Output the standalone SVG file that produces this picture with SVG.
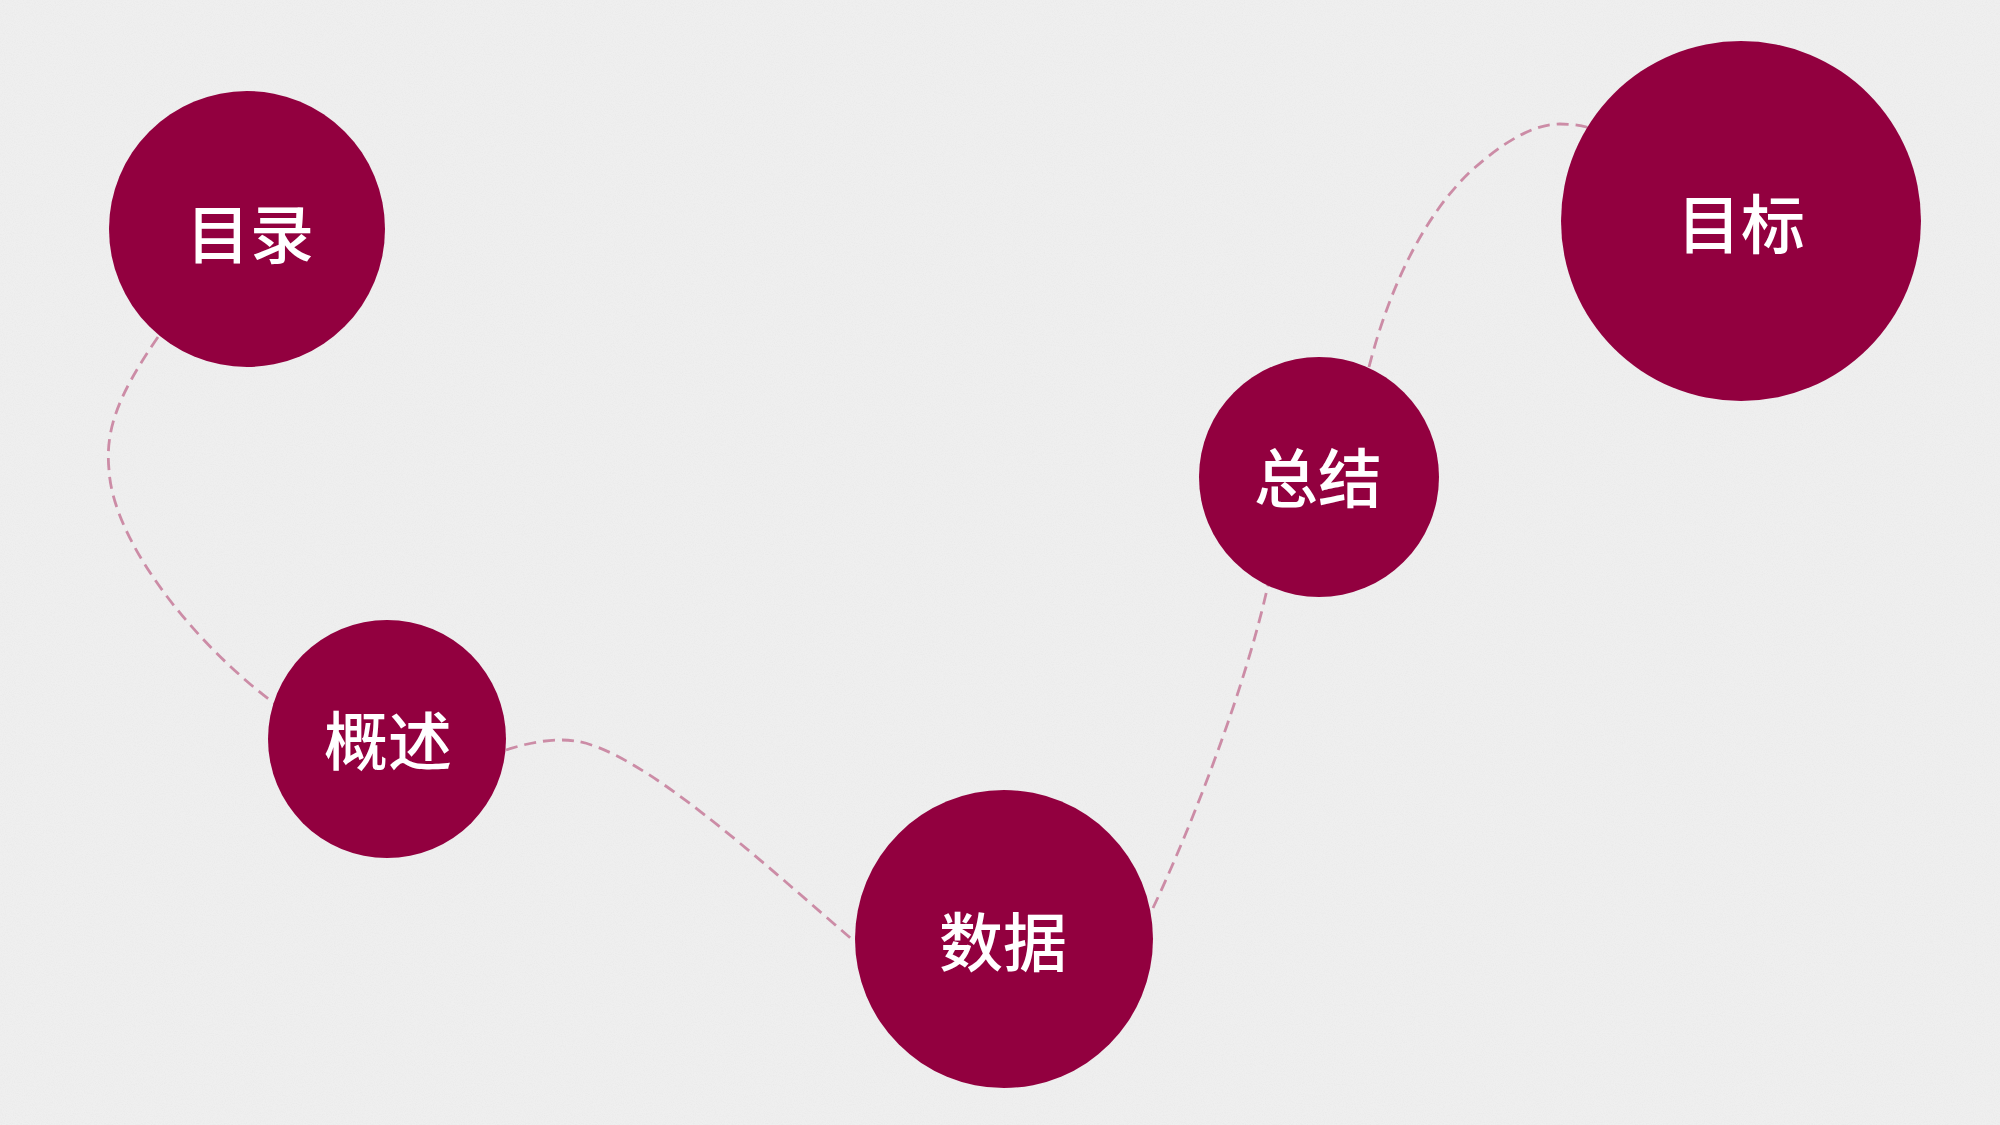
<svg xmlns="http://www.w3.org/2000/svg" width="2000" height="1125" viewBox="0 0 2000 1125">
  <defs>
    <filter id="paper" x="0" y="0" width="100%" height="100%">
      <feTurbulence type="fractalNoise" baseFrequency="0.9" numOctaves="2" seed="3" result="n"/>
      <feColorMatrix type="matrix" values="0 0 0 0 0.5  0 0 0 0 0.5  0 0 0 0 0.5  0 0 0 -0.9 0.55" in="n"/>
    </filter>
    <style>
      .node { fill: #92003f; }
      .label { fill: #ffffff; font-family: "Noto Sans CJK SC", "Noto Sans", sans-serif; font-size: 64px; font-weight: 500; text-anchor: middle; dominant-baseline: central; }
      .link { fill: none; stroke: #cc8ca6; stroke-width: 2.8; stroke-dasharray: 12 7; }
    </style>
  </defs>
  <rect x="0" y="0" width="2000" height="1125" fill="#efefef"/>
  <rect x="0" y="0" width="2000" height="1125" filter="url(#paper)" opacity="0.2"/>

  <g id="connectors">
    <path class="link" d="M158,337 C118,395 105,430 109,470 C113,540 190,640 275,704"/>
    <path class="link" d="M506,750 C530,742 555,738 575,741 C640,750 760,860 855,942"/>
    <path class="link" d="M1153,908 C1190,830 1245,690 1268,585"/>
    <path class="link" d="M1369,367 C1390,285 1425,215 1470,172 C1505,140 1535,124 1560,124 C1570,124 1580,125 1590,128"/>
  </g>

  <g id="node-mulu">
    <circle class="node" cx="247" cy="229" r="138"/>
    <text class="label" x="250" y="230">目录</text>
  </g>
  <g id="node-gaishu">
    <circle class="node" cx="387" cy="739" r="119"/>
    <text class="label" x="388" y="737">概述</text>
  </g>
  <g id="node-shuju">
    <circle class="node" cx="1004" cy="939" r="149"/>
    <text class="label" x="1003" y="938">数据</text>
  </g>
  <g id="node-zongjie">
    <circle class="node" cx="1319" cy="477" r="120"/>
    <text class="label" x="1318" y="474">总结</text>
  </g>
  <g id="node-mubiao">
    <circle class="node" cx="1741" cy="221" r="180"/>
    <text class="label" x="1741" y="220">目标</text>
  </g>
</svg>
